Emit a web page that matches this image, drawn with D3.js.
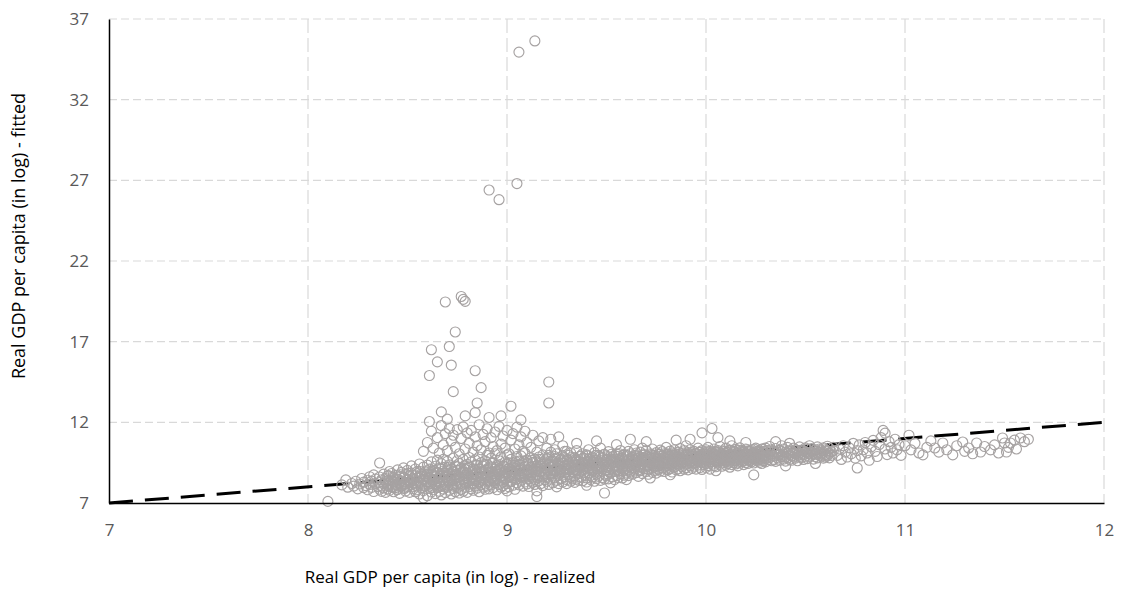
<!DOCTYPE html>
<html>
<head>
<meta charset="utf-8">
<script src="https://cdn.jsdelivr.net/npm/d3@7"></script>
<style>
  html, body { margin: 0; padding: 0; background: #ffffff; }
  svg { display: block; }
</style>
</head>
<body>
<svg id="chart" width="1123" height="592"></svg>
<script>
// ---------------- DATA ----------------
const xTicks = [7, 8, 9, 10, 11, 12];
const yTicks = [7, 12, 17, 22, 27, 32, 37];
const xTitle = "Real GDP per capita (in log) - realized";
const yTitle = "Real GDP per capita (in log) - fitted";

// 45-degree reference line (realized = fitted)
const lineRealized = [7, 12];
const lineFitted = [7, 12];

// scatter points [realized, fitted]
const outliersHigh = [
  [9.14,35.64],[9.06,34.95],[8.91,26.40],[8.96,25.80],[9.05,26.80],
  [8.69,19.46],[8.77,19.80],[8.79,19.50],[8.78,19.62],[8.74,17.60],
  [8.62,16.50],[8.71,16.70],[8.65,15.75],[8.72,15.55],[8.61,14.90],
  [8.84,15.20],[8.87,14.15],[8.73,13.90],[8.85,13.20],[8.67,12.65],
  [9.02,13.00],[9.21,14.50],[9.21,13.20],[8.79,12.40],[8.84,12.60],
  [8.91,12.30],[8.97,12.40],[8.61,12.05],[8.70,12.20],[9.07,12.15]
];
const outliersLow = [
  [8.10,7.10],[8.58,7.31],[9.15,7.40],[9.49,7.62],[9.72,8.55],
  [9.00,7.75],[9.25,8.00],[9.40,8.10],[9.60,8.45],[9.82,8.75],
  [10.05,9.00],[10.40,9.30],[10.55,9.45]
];
const upperTail = [
  [8.58,10.20],[8.60,10.75],[8.62,11.45],[8.63,10.40],[8.65,11.05],[8.66,10.10],[8.67,11.80],[8.68,10.60],
  [8.69,11.30],[8.70,10.25],[8.71,11.62],[8.72,10.85],[8.73,11.20],[8.74,10.45],[8.75,11.55],[8.76,10.05],
  [8.77,11.00],[8.78,11.72],[8.79,10.35],[8.80,11.35],[8.81,10.70],[8.82,11.50],[8.83,10.15],[8.84,11.10],
  [8.85,10.55],[8.86,11.85],[8.87,10.30],[8.88,11.25],[8.89,10.80],[8.90,11.60],[8.91,10.10],[8.92,11.05],
  [8.93,10.50],[8.94,11.40],[8.95,10.25],[8.96,11.75],[8.97,10.65],[8.98,11.15],[8.99,10.40],[9.00,11.50],
  [9.01,10.05],[9.02,10.90],[9.03,11.30],[9.04,10.35],[9.05,11.70],[9.06,10.60],[9.07,11.10],[9.08,10.20],
  [9.09,11.45],[9.10,10.75],[9.12,10.45],[9.13,11.20],[9.15,10.15],[9.16,10.85],[9.18,11.05],[9.20,10.40],
  [9.22,10.95],[9.24,10.30],[9.26,11.10],[9.28,10.55],[9.30,10.20],
  [9.35,10.70],[9.45,10.85],[9.55,10.62],[9.62,10.95],[9.70,10.80],[9.85,10.90],[9.92,10.95],[9.98,11.35],
  [10.03,11.62],[10.06,11.05],[10.12,10.85],[10.20,10.75],[10.35,10.80],[10.42,10.70],[8.36,9.48]
];
const bandA = [
  [8.17,8.12],[8.19,8.43],[8.20,7.98],[8.22,8.21],[8.23,8.05],[8.24,8.35],[8.25,7.88],[8.26,8.18],
  [8.27,8.52],[8.28,7.95],[8.28,8.29],[8.29,8.08],[8.30,8.41],[8.30,7.82],[8.31,8.63],[8.31,8.15],
  [8.32,7.97],[8.32,8.36],[8.33,8.74],[8.33,7.71],[8.34,8.22],[8.34,8.49],[8.35,8.02]
];
const bandB = [
  [8.36,7.85],[8.36,8.27],[8.36,8.61],[8.37,8.05],[8.37,8.44],[8.37,7.72],[8.38,8.18],[8.38,8.79],[8.38,7.93],
  [8.39,8.33],[8.39,7.66],[8.39,8.52],[8.40,8.09],[8.40,8.68],[8.40,7.88],[8.41,8.24],[8.41,8.95],[8.41,7.79],
  [8.42,8.41],[8.42,8.02],[8.42,8.83],[8.43,7.70],[8.43,8.30],[8.43,8.56],[8.44,8.15],[8.44,8.71],[8.44,7.95],
  [8.45,8.48],[8.45,7.83],[8.45,9.05],[8.46,8.27],[8.46,8.62],[8.46,7.60],[8.47,8.06],[8.47,8.90],[8.47,8.38],
  [8.48,7.92],[8.48,8.55],[8.48,9.18],[8.49,8.20],[8.49,8.77],[8.49,7.74],[8.50,8.43],[8.50,8.02],[8.50,9.02],
  [8.51,7.66],[8.51,8.31],[8.51,8.66],[8.52,8.12],[8.52,8.85],[8.52,9.30],[8.53,7.88],[8.53,8.50],[8.53,8.25],
  [8.54,8.69],[8.54,7.70],[8.54,9.11],[8.55,8.36],[8.55,8.04],[8.55,8.96],[8.56,7.56],[8.56,8.58],[8.56,9.42],
  [8.57,8.21],[8.57,8.80],[8.57,7.95],[8.58,8.47],[8.58,9.22],[8.58,7.77],[8.59,8.10],[8.59,8.93],[8.59,8.64]
];
const bandC = [
  [8.60,7.45],[8.60,8.32],[8.60,8.81],[8.60,9.35],[8.61,7.90],[8.61,8.58],[8.61,9.10],[8.61,8.05],
  [8.62,8.20],[8.62,8.70],[8.62,9.55],[8.62,7.68],[8.63,7.82],[8.63,8.45],[8.63,9.02],[8.63,8.92],
  [8.64,8.12],[8.64,8.63],[8.64,9.28],[8.64,7.58],[8.65,8.38],[8.65,7.95],[8.65,8.86],[8.65,9.66],
  [8.66,7.72],[8.66,8.55],[8.66,9.15],[8.66,8.23],[8.67,8.02],[8.67,8.74],[8.67,9.44],[8.67,7.50],
  [8.68,8.30],[8.68,8.97],[8.68,7.86],[8.68,9.70],[8.69,8.60],[8.69,7.64],[8.69,9.22],[8.69,8.15],
  [8.70,7.98],[8.70,8.44],[8.70,9.05],[8.70,9.58],[8.71,8.26],[8.71,8.83],[8.71,7.78],[8.71,9.36],
  [8.72,7.56],[8.72,8.68],[8.72,9.12],[8.72,8.40],[8.73,8.05],[8.73,8.92],[8.73,9.78],[8.73,7.90],
  [8.74,8.50],[8.74,7.70],[8.74,9.30],[8.74,8.77],[8.75,8.18],[8.75,9.02],[8.75,7.95],[8.75,9.62],
  [8.76,8.62],[8.76,7.62],[8.76,8.35],[8.76,9.45],[8.77,8.88],[8.77,8.10],[8.77,9.18],[8.77,7.84],
  [8.78,8.45],[8.78,9.70],[8.78,7.73],[8.78,8.96],[8.79,8.22],[8.79,9.08],[8.79,8.70],[8.79,7.97],
  [8.80,7.66],[8.80,8.53],[8.80,9.40],[8.80,8.85],[8.81,8.36],[8.81,9.25],[8.81,8.02],[8.81,9.82],
  [8.82,7.88],[8.82,8.75],[8.82,9.55],[8.82,8.48],[8.83,8.60],[8.83,9.12],[8.83,7.79],[8.83,8.20],
  [8.84,9.00],[8.84,8.40],[8.84,9.68],[8.84,8.05],[8.85,7.92],[8.85,8.68],[8.85,9.35],[8.85,8.88],
  [8.86,8.30],[8.86,9.10],[8.86,7.70],[8.86,9.85],[8.87,8.55],[8.87,8.95],[8.87,8.12],[8.87,9.50],
  [8.88,7.98],[8.88,8.80],[8.88,9.28],[8.88,8.42],[8.89,8.66],[8.89,9.62],[8.89,8.18],[8.89,7.85]
];
const bandD = [
  [8.90,8.05],[8.90,8.72],[8.90,9.40],[8.90,9.95],[8.91,8.35],[8.91,9.05],[8.91,7.88],[8.91,8.90],
  [8.92,8.60],[8.92,9.25],[8.92,8.12],[8.92,9.78],[8.93,7.95],[8.93,8.82],[8.93,9.50],[8.93,8.40],
  [8.94,8.25],[8.94,9.10],[8.94,8.68],[8.94,10.05],[8.95,8.50],[8.95,7.82],[8.95,9.33],[8.95,8.95],
  [8.96,8.15],[8.96,8.78],[8.96,9.62],[8.96,9.12],[8.97,8.42],[8.97,9.00],[8.97,7.98],[8.97,9.85],
  [8.98,8.70],[8.98,9.28],[8.98,8.30],[8.98,8.08],[8.99,8.95],[8.99,9.55],[8.99,8.55],[8.99,7.90],
  [9.00,8.20],[9.00,8.85],[9.00,9.40],[9.00,9.98],[9.01,8.62],[9.01,9.15],[9.01,8.00],[9.01,8.40],
  [9.02,8.32],[9.02,9.05],[9.02,9.70],[9.02,8.78],[9.03,8.10],[9.03,8.92],[9.03,9.48],[9.03,9.22],
  [9.04,8.55],[9.04,9.35],[9.04,7.85],[9.04,8.72],[9.05,8.25],[9.05,9.00],[9.05,9.88],[9.05,8.48],
  [9.06,8.80],[9.06,9.60],[9.06,8.12],[9.06,9.18],[9.07,8.40],[9.07,9.10],[9.07,8.65],[9.07,9.92],
  [9.08,8.05],[9.08,8.88],[9.08,9.45],[9.08,8.58],[9.09,8.70],[9.09,9.28],[9.09,8.30],[9.09,10.10],
  [9.10,8.18],[9.10,9.02],[9.10,9.65],[9.10,8.85],[9.11,8.50],[9.11,9.38],[9.11,8.02],[9.11,8.95],
  [9.12,8.75],[9.12,9.20],[9.12,9.80],[9.12,8.35],[9.13,8.28],[9.13,9.05],[9.13,8.60],[9.13,9.52],
  [9.14,8.90],[9.14,9.72],[9.14,8.15],[9.14,8.45],[9.15,8.58],[9.15,9.30],[9.15,9.00],[9.15,7.75],
  [9.16,8.38],[9.16,9.12],[9.16,9.85],[9.16,8.70],[9.17,8.20],[9.17,8.95],[9.17,9.48],[9.17,9.25],
  [9.18,8.62],[9.18,9.40],[9.18,8.08],[9.18,9.98],[9.19,8.85],[9.19,9.18],[9.19,8.45],[9.19,9.62]
];
const bandE = [
  [9.20,8.35],[9.20,9.10],[9.20,9.75],[9.20,8.80],[9.21,8.60],[9.21,9.40],[9.21,8.15],[9.21,9.95],
  [9.22,8.90],[9.22,9.25],[9.22,8.48],[9.22,10.15],[9.23,8.25],[9.23,9.05],[9.23,9.60],[9.23,8.72],
  [9.24,8.55],[9.24,9.35],[9.24,9.88],[9.24,9.00],[9.25,8.40],[9.25,9.18],[9.25,8.85],[9.25,10.05],
  [9.26,8.70],[9.26,9.50],[9.26,8.20],[9.26,9.28],[9.27,8.95],[9.27,9.70],[9.27,8.50],[9.27,9.12],
  [9.28,8.30],[9.28,9.02],[9.28,9.45],[9.28,9.90],[9.29,8.62],[9.29,9.30],[9.29,8.88],[9.29,10.20],
  [9.30,8.45],[9.30,9.15],[9.30,9.68],[9.30,8.20],[9.31,8.78],[9.31,9.42],[9.31,9.05],[9.31,9.95],
  [9.32,8.35],[9.32,9.22],[9.32,8.60],[9.32,10.10],[9.33,8.92],[9.33,9.55],[9.33,8.50],[9.33,9.35],
  [9.34,8.68],[9.34,9.08],[9.34,9.80],[9.34,8.28],[9.35,8.48],[9.35,9.38],[9.35,9.00],[9.35,10.25],
  [9.36,8.82],[9.36,9.60],[9.36,8.40],[9.36,9.20],[9.37,8.60],[9.37,9.28],[9.37,9.92],[9.37,8.95],
  [9.38,8.38],[9.38,9.12],[9.38,9.50],[9.38,10.05],[9.39,8.72],[9.39,9.45],[9.39,8.90],[9.39,9.75],
  [9.40,8.55],[9.40,9.25],[9.40,9.98],[9.40,8.30],[9.41,8.88],[9.41,9.55],[9.41,9.10],[9.41,10.30],
  [9.42,8.45],[9.42,9.35],[9.42,8.70],[9.42,9.68],[9.43,8.98],[9.43,9.18],[9.43,9.85],[9.43,8.62],
  [9.44,8.35],[9.44,9.48],[9.44,9.05],[9.44,10.12],[9.45,8.78],[9.45,9.62],[9.45,9.30],[9.45,8.52],
  [9.46,8.65],[9.46,9.40],[9.46,9.95],[9.46,9.15],[9.47,8.92],[9.47,9.25],[9.47,8.40],[9.47,10.40],
  [9.48,8.58],[9.48,9.55],[9.48,9.12],[9.48,9.80],[9.49,8.80],[9.49,9.38],[9.49,8.48],[9.49,10.02],
  [9.50,9.05],[9.50,9.70],[9.50,8.68],[9.50,9.22],[9.51,8.50],[9.51,9.45],[9.51,8.95],[9.51,10.18],
  [9.52,8.85],[9.52,9.60],[9.52,9.30],[9.52,8.25],[9.53,8.62],[9.53,9.15],[9.53,9.88],[9.53,9.50],
  [9.54,8.95],[9.54,9.72],[9.54,8.45],[9.54,9.35],[9.55,8.70],[9.55,9.52],[9.55,10.05],[9.55,9.08],
  [9.56,9.00],[9.56,9.28],[9.56,8.58],[9.56,9.90],[9.57,8.80],[9.57,9.65],[9.57,9.40],[9.57,10.25],
  [9.58,8.55],[9.58,9.20],[9.58,9.78],[9.58,8.98],[9.59,9.10],[9.59,9.50],[9.59,8.72],[9.59,10.00]
];
const bandF = [
  [9.60,8.85],[9.60,9.40],[9.60,9.95],[9.60,9.15],[9.61,9.05],[9.61,9.68],[9.61,8.70],[9.61,10.20],
  [9.62,8.92],[9.62,9.55],[9.62,9.30],[9.62,10.05],[9.63,9.20],[9.63,9.82],[9.63,8.78],[9.63,9.48],
  [9.64,8.98],[9.64,9.62],[9.64,10.30],[9.64,9.10],[9.65,9.35],[9.65,9.75],[9.65,8.88],[9.65,10.10],
  [9.66,9.05],[9.66,9.50],[9.66,9.90],[9.66,8.65],[9.67,9.25],[9.67,9.70],[9.67,10.15],[9.67,9.00],
  [9.68,8.82],[9.68,9.45],[9.68,9.80],[9.68,10.40],[9.69,9.12],[9.69,9.60],[9.69,9.35],[9.69,10.00],
  [9.70,8.95],[9.70,9.88],[9.70,9.55],[9.70,10.25],[9.71,9.30],[9.71,9.70],[9.71,9.08],[9.71,8.78],
  [9.72,9.15],[9.72,9.52],[9.72,10.05],[9.72,9.85],[9.73,8.90],[9.73,9.40],[9.73,9.95],[9.73,10.35],
  [9.74,9.22],[9.74,9.78],[9.74,9.60],[9.74,9.02],[9.75,9.45],[9.75,10.12],[9.75,8.85],[9.75,9.68],
  [9.76,9.08],[9.76,9.55],[9.76,10.00],[9.76,9.30],[9.77,9.35],[9.77,9.90],[9.77,8.98],[9.77,10.28],
  [9.78,9.18],[9.78,9.65],[9.78,10.18],[9.78,9.50],[9.79,8.95],[9.79,9.42],[9.79,9.82],[9.79,10.05],
  [9.80,9.28],[9.80,9.75],[9.80,9.10],[9.80,10.45],[9.81,9.50],[9.81,10.00],[9.81,9.05],[9.81,9.62],
  [9.82,9.15],[9.82,9.85],[9.82,9.38],[9.82,10.22],[9.83,9.40],[9.83,9.70],[9.83,8.92],[9.83,10.10],
  [9.84,9.22],[9.84,9.58],[9.84,10.30],[9.84,9.95],[9.85,9.05],[9.85,9.80],[9.85,9.45],[9.85,10.00],
  [9.86,9.35],[9.86,9.68],[9.86,10.15],[9.86,9.12],[9.87,9.55],[9.87,9.92],[9.87,9.00],[9.87,10.38],
  [9.88,9.25],[9.88,9.75],[9.88,9.48],[9.88,10.05],[9.89,9.10],[9.89,9.60],[9.89,9.85],[9.89,10.25],
  [9.90,9.40],[9.90,9.98],[9.90,9.20],[9.90,10.55],[9.91,9.62],[9.91,9.85],[9.91,9.05],[9.91,10.12],
  [9.92,9.30],[9.92,9.72],[9.92,10.30],[9.92,9.50],[9.93,9.15],[9.93,9.90],[9.93,9.58],[9.93,10.02],
  [9.94,9.45],[9.94,9.78],[9.94,10.20],[9.94,9.28],[9.95,9.65],[9.95,10.08],[9.95,9.10],[9.95,9.88],
  [9.96,9.35],[9.96,9.70],[9.96,10.40],[9.96,9.55],[9.97,9.20],[9.97,9.95],[9.97,9.62],[9.97,10.15],
  [9.98,9.50],[9.98,9.80],[9.98,10.25],[9.98,9.08],[9.99,9.72],[9.99,10.05],[9.99,9.38],[9.99,9.90]
];
const bandG = [
  [10.00,9.45],[10.00,9.85],[10.00,10.30],[10.00,9.20],[10.01,9.65],[10.01,10.05],[10.01,9.32],[10.01,10.45],
  [10.02,9.55],[10.02,9.95],[10.02,10.20],[10.02,9.10],[10.03,9.75],[10.03,10.10],[10.03,9.40],[10.03,9.88],
  [10.04,9.30],[10.04,9.68],[10.04,10.35],[10.04,10.00],[10.05,9.58],[10.05,9.92],[10.05,10.15],[10.05,9.25],
  [10.06,9.80],[10.06,10.25],[10.06,9.48],[10.06,9.62],[10.07,9.40],[10.07,9.75],[10.07,10.08],[10.07,10.50],
  [10.08,9.62],[10.08,10.02],[10.08,9.28],[10.08,9.90],[10.09,9.85],[10.09,10.18],[10.09,9.52],[10.09,9.70],
  [10.10,9.35],[10.10,9.95],[10.10,10.40],[10.10,9.60],[10.11,9.70],[10.11,10.12],[10.11,9.45],[10.11,9.85],
  [10.12,9.55],[10.12,9.90],[10.12,10.28],[10.12,9.22],[10.13,9.78],[10.13,10.05],[10.13,9.38],[10.13,10.55],
  [10.14,9.62],[10.14,9.98],[10.14,10.20],[10.14,9.50],[10.15,9.88],[10.15,10.32],[10.15,9.42],[10.15,9.72],
  [10.16,9.48],[10.16,9.82],[10.16,10.10],[10.16,9.30],[10.17,9.70],[10.17,10.02],[10.17,10.42],[10.17,9.58],
  [10.18,9.92],[10.18,10.25],[10.18,9.55],[10.18,9.80],[10.19,9.60],[10.19,9.95],[10.19,10.15],[10.19,9.38],
  [10.20,9.82],[10.20,10.08],[10.20,9.50],[10.20,10.35],[10.21,9.68],[10.21,10.00],[10.21,9.45],[10.21,10.22],
  [10.22,9.90],[10.22,10.18],[10.22,9.62],[10.22,9.78],[10.23,9.55],[10.23,9.85],[10.23,10.30],[10.23,10.05],
  [10.24,9.75],[10.24,10.12],[10.24,9.48],[10.24,8.74],[10.25,9.95],[10.25,10.40],[10.25,9.65],[10.25,9.85],
  [10.26,9.60],[10.26,10.05],[10.26,9.82],[10.26,10.22],[10.27,9.88],[10.27,10.15],[10.27,9.52],[10.27,9.72],
  [10.28,9.70],[10.28,10.00],[10.28,10.35],[10.28,9.45],[10.29,9.92],[10.29,10.20],[10.29,9.62],[10.29,9.80]
];
const bandH = [
  [10.30,9.75],[10.30,10.10],[10.30,9.55],[10.30,10.40],[10.31,9.95],[10.31,10.25],[10.31,9.68],
  [10.32,9.82],[10.32,10.15],[10.32,10.50],[10.33,9.62],[10.33,10.02],[10.33,10.30],[10.34,9.90],
  [10.34,10.20],[10.34,9.70],[10.35,10.05],[10.35,10.38],[10.35,9.58],[10.36,9.78],[10.36,10.12],
  [10.36,9.95],[10.37,9.65],[10.37,10.28],[10.37,10.00],[10.38,9.88],[10.38,10.18],[10.38,10.55],
  [10.39,10.02],[10.39,9.72],[10.39,10.35],[10.40,9.85],[10.40,10.15],[10.40,9.60],[10.41,10.08],
  [10.41,10.45],[10.41,9.80],[10.42,9.70],[10.42,10.00],[10.42,10.25],[10.43,9.92],[10.43,10.22],
  [10.43,9.65],[10.44,10.10],[10.44,10.40],[10.44,9.85],[10.45,9.78],[10.45,10.05],[10.45,10.30],
  [10.46,9.95],[10.46,10.18],[10.46,9.62],[10.47,10.12],[10.47,10.48],[10.47,9.88],[10.48,9.82],
  [10.48,10.02],[10.48,10.28],[10.49,10.00],[10.49,10.22],[10.49,9.70],[10.50,9.90],[10.50,10.15],
  [10.50,10.42],[10.51,10.08],[10.51,10.32],[10.51,9.75],[10.52,9.85],[10.52,10.05],[10.52,10.55],
  [10.53,10.18],[10.53,9.95],[10.53,10.38],[10.54,9.72],[10.54,10.10],[10.54,10.25],[10.55,10.02],
  [10.55,10.30],[10.55,9.88],[10.56,9.80],[10.56,10.20],[10.56,10.48],[10.57,10.12],[10.57,9.95],
  [10.57,10.35],[10.58,9.90],[10.58,10.25],[10.58,10.05],[10.59,10.15],[10.59,9.78],[10.59,10.42],
  [10.60,10.00],[10.60,10.30],[10.60,9.85],[10.61,10.22],[10.61,9.92],[10.61,10.52],[10.62,10.08],
  [10.62,10.38],[10.62,9.80],[10.63,9.95],[10.63,10.18],[10.64,10.25],[10.64,10.45]
];
const bandI = [
  [10.66,9.95],[10.67,10.35],[10.68,9.70],[10.69,10.55],[10.70,10.15],[10.71,9.85],[10.72,10.42],
  [10.73,10.05],[10.74,10.70],[10.75,9.78],[10.76,9.17],[10.76,10.25],[10.77,10.60],[10.78,9.92],
  [10.79,10.29],[10.80,10.75],[10.81,10.10],[10.82,9.65],[10.83,10.48],[10.84,10.88],[10.85,10.20],
  [10.86,9.88],[10.87,10.62],[10.88,11.05],[10.89,11.50],[10.90,11.33],[10.90,10.35],[10.91,10.00],
  [10.92,10.80],[10.93,10.45],[10.94,10.10],[10.95,10.95],[10.96,10.30],[10.97,10.62],[10.98,9.95],
  [11.02,11.20]
];
const bandJ = [
  [11.00,10.55],[11.03,10.29],[11.05,10.70],[11.07,10.10],[11.09,9.98],[11.11,10.45],[11.13,10.85],
  [11.15,10.41],[11.17,10.15],[11.19,10.72],[11.21,10.30],[11.24,9.98],[11.26,10.55],[11.29,10.78],
  [11.30,10.20],[11.32,10.41],[11.34,10.05],[11.36,10.72],[11.38,10.16],[11.40,10.50],[11.43,10.29],
  [11.45,10.60],[11.47,10.10],[11.49,11.03],[11.50,10.72],[11.51,10.16],[11.52,10.45],[11.53,10.72],
  [11.55,10.90],[11.56,10.35],[11.58,11.03],[11.60,10.80],[11.62,10.95]
];
// extra points in the dense core of the cloud
const coreDense = [
  [8.405,8.05],[8.405,8.40],[8.405,8.70],[8.425,7.95],[8.425,8.30],[8.425,8.62],[8.445,8.12],[8.445,8.48],[8.445,7.85],
  [8.465,8.35],[8.465,8.75],[8.465,8.00],[8.485,8.22],[8.485,8.60],[8.485,7.90],[8.505,8.10],[8.505,8.45],[8.505,8.85],
  [8.525,8.38],[8.525,8.00],[8.525,8.72],[8.545,8.55],[8.545,8.18],[8.545,7.82],[8.565,8.28],[8.565,8.68],[8.565,8.95],
  [8.585,8.05],[8.585,8.42],[8.585,8.80],[8.605,8.60],[8.605,8.15],[8.605,9.00],[8.625,8.35],[8.625,8.78],[8.625,7.95],
  [8.645,8.50],[8.645,8.90],[8.645,8.10],[8.665,8.25],[8.665,8.65],[8.665,9.10],[8.685,8.45],[8.685,8.05],[8.685,8.85],
  [8.705,8.70],[8.705,8.30],[8.705,9.20],[8.725,8.55],[8.725,8.95],[8.725,8.15],[8.745,8.38],[8.745,8.80],[8.745,9.25],
  [8.765,8.62],[8.765,9.05],[8.765,8.20],[8.785,8.48],[8.785,8.90],[8.785,9.30],[8.805,8.75],[8.805,8.32],[8.805,9.15],
  [8.825,8.58],[8.825,9.00],[8.825,8.25],[8.845,8.82],[8.845,8.40],[8.845,9.35],[8.865,8.65],[8.865,9.08],[8.865,8.30],
  [8.885,8.90],[8.885,8.50],[8.885,9.40],[8.905,8.72],[8.905,9.15],[8.905,8.35],[8.925,8.95],[8.925,8.55],[8.925,9.45],
  [8.945,8.80],[8.945,9.20],[8.945,8.42],[8.965,9.02],[8.965,8.62],[8.965,9.38],[8.985,8.88],[8.985,9.28],[8.985,8.50],
  [9.005,9.10],[9.005,8.70],[9.005,9.50],[9.025,8.95],[9.025,9.35],[9.025,8.55],[9.045,9.15],[9.045,8.78],[9.045,9.55],
  [9.065,9.00],[9.065,9.40],[9.065,8.62],[9.085,9.22],[9.085,8.82],[9.085,9.60],[9.105,9.05],[9.105,9.45],[9.105,8.68],
  [9.125,9.28],[9.125,8.88],[9.125,9.65],[9.145,9.12],[9.145,9.50],[9.145,8.72],[9.165,9.32],[9.165,8.95],[9.165,9.70],
  [9.185,9.18],[9.185,9.55],[9.185,8.80],[9.205,9.38],[9.205,9.00],[9.205,9.75],[9.225,9.22],[9.225,9.60],[9.225,8.85],
  [9.245,9.42],[9.245,9.05],[9.245,9.78],[9.265,9.28],[9.265,9.65],[9.265,8.90],[9.285,9.48],[9.285,9.10],[9.285,9.82],
  [9.305,9.32],[9.305,9.70],[9.305,8.95],[9.325,9.52],[9.325,9.15],[9.325,9.85],[9.345,9.38],[9.345,9.72],[9.345,9.00],
  [9.365,9.55],[9.365,9.20],[9.365,9.88],[9.385,9.42],[9.385,9.78],[9.385,9.05],[9.405,9.60],[9.405,9.25],[9.405,9.92],
  [9.425,9.45],[9.425,9.80],[9.425,9.10],[9.445,9.65],[9.445,9.30],[9.445,9.95],[9.465,9.50],[9.465,9.85],[9.465,9.15],
  [9.485,9.68],[9.485,9.35],[9.485,10.00],[9.505,9.55],[9.505,9.88],[9.505,9.20],[9.525,9.72],[9.525,9.38],[9.525,10.02],
  [9.545,9.58],[9.545,9.92],[9.545,9.25],[9.565,9.75],[9.565,9.42],[9.565,10.05],[9.585,9.62],[9.585,9.95],[9.585,9.28],
  [9.605,9.63],[9.605,9.30],[9.605,9.93],[9.625,9.50],[9.625,9.83],[9.625,9.17],[9.645,9.67],[9.645,9.35],[9.645,9.95],
  [9.665,9.55],[9.665,9.85],[9.665,9.23],[9.685,9.70],[9.685,9.40],[9.685,9.97],[9.705,9.57],[9.705,9.90],[9.705,9.27],
  [9.725,9.73],[9.725,9.43],[9.725,10.00],[9.745,9.63],[9.745,9.93],[9.745,9.30],[9.765,9.77],[9.765,9.47],[9.765,10.03],
  [9.785,9.65],[9.785,9.95],[9.785,9.35],[9.805,9.80],[9.805,9.50],[9.805,10.05],[9.825,9.67],[9.825,9.97],[9.825,9.40],
  [9.845,9.83],[9.845,9.55],[9.845,10.07],[9.865,9.70],[9.865,10.00],[9.865,9.43],[9.885,9.85],[9.885,9.57],[9.885,10.10],
  [9.905,9.73],[9.905,10.03],[9.905,9.47],[9.925,9.87],[9.925,9.60],[9.925,10.13],[9.945,9.75],[9.945,10.05],[9.945,9.50],
  [9.965,9.90],[9.965,9.63],[9.965,10.15],[9.985,9.77],[9.985,10.07],[9.985,9.53],[10.005,9.93],[10.005,9.65],[10.005,10.17],
  [10.025,9.80],[10.025,10.10],[10.025,9.55],[10.045,9.95],[10.045,9.67],[10.045,10.20],[10.065,9.83],[10.065,10.13],[10.065,9.57],
  [10.085,9.97],[10.085,9.70],[10.085,10.23],[10.105,9.85],[10.105,10.15],[10.105,9.60],[10.125,10.00],[10.125,9.73],[10.125,10.25],
  [10.145,9.87],[10.145,10.17],[10.145,9.63],[10.165,10.03],[10.165,9.75],[10.165,10.27],[10.185,9.90],[10.185,10.20],[10.185,9.65],
  [10.205,10.05],[10.205,9.77],[10.205,10.30],[10.225,9.93],[10.225,10.23],[10.225,9.67],[10.245,10.07],[10.245,9.80],[10.245,10.33],
  [10.265,9.95],[10.265,10.25],[10.265,9.70],[10.285,10.10],[10.285,9.83],[10.285,10.35]
];

// ---------------- CHART ----------------
const svg = d3.select("#chart");
const W = 1123, H = 592;
const margin = { left: 109, right: 1123 - 1104, top: 19, bottom: 592 - 503 };

const x = d3.scaleLinear().domain([7, 12]).range([margin.left, W - margin.right]);
const y = d3.scaleLinear().domain([7, 37]).range([H - margin.bottom, margin.top]);

const gridColor = "#d9d9d9";
const labelColor = "#595959";
const font = "'Open Sans', 'Liberation Sans', sans-serif";

// horizontal gridlines
svg.append("g").selectAll("line").data(yTicks.filter(d => d !== 7)).join("line")
  .attr("x1", x(7)).attr("x2", x(12))
  .attr("y1", d => y(d)).attr("y2", d => y(d))
  .attr("stroke", gridColor).attr("stroke-width", 1.2)
  .attr("stroke-dasharray", "8,4");

// vertical gridlines
svg.append("g").selectAll("line").data(xTicks.filter(d => d !== 7)).join("line")
  .attr("x1", d => x(d)).attr("x2", d => x(d))
  .attr("y1", y(37)).attr("y2", y(7))
  .attr("stroke", gridColor).attr("stroke-width", 1.2)
  .attr("stroke-dasharray", "14,5");

// 45 degree line (drawn under the markers)
const lineData = lineRealized.map((d, i) => [d, lineFitted[i]]);
svg.append("path")
  .datum(lineData)
  .attr("d", d3.line().x(d => x(d[0])).y(d => y(d[1])))
  .attr("fill", "none")
  .attr("stroke", "#000")
  .attr("stroke-width", 3)
  .attr("stroke-dasharray", "24,12");

// scatter
const points = [].concat(bandA, bandB, bandC, bandD, bandE, bandF, bandG, bandH, bandI, bandJ,
                         coreDense, upperTail, outliersLow, outliersHigh);
svg.append("g").selectAll("circle").data(points).join("circle")
  .attr("cx", d => x(d[0]))
  .attr("cy", d => y(d[1]))
  .attr("r", 5)
  .attr("fill", "none")
  .attr("stroke", "#a6a2a2")
  .attr("stroke-width", 1.15);

// axes (no tick marks)
const xAxis = d3.axisBottom(x).tickValues(xTicks).tickSize(0).tickPadding(21).tickFormat(d3.format("d"));
const gx = svg.append("g").attr("transform", `translate(0,${y(7)})`).call(xAxis);
gx.select(".domain").attr("stroke", "#000").attr("stroke-width", 1.5);
gx.selectAll("text").attr("fill", labelColor).style("font-family", font).style("font-size", "17px");

const yAxis = d3.axisLeft(y).tickValues(yTicks).tickSize(0).tickPadding(20).tickFormat(d3.format("d"));
const gy = svg.append("g").attr("transform", `translate(${x(7)},0)`).call(yAxis);
gy.select(".domain").attr("stroke", "#000").attr("stroke-width", 1.5);
gy.selectAll("text").attr("fill", labelColor).style("font-family", font).style("font-size", "17px");

// axis titles
svg.append("text")
  .attr("x", 450).attr("y", 583)
  .attr("text-anchor", "middle")
  .attr("fill", "#000")
  .style("font-family", font).style("font-size", "17px")
  .text(xTitle);

svg.append("text")
  .attr("transform", "translate(25,236) rotate(-90)")
  .attr("text-anchor", "middle")
  .attr("fill", "#000")
  .style("font-family", font).style("font-size", "18px")
  .text(yTitle);
</script>
</body>
</html>
